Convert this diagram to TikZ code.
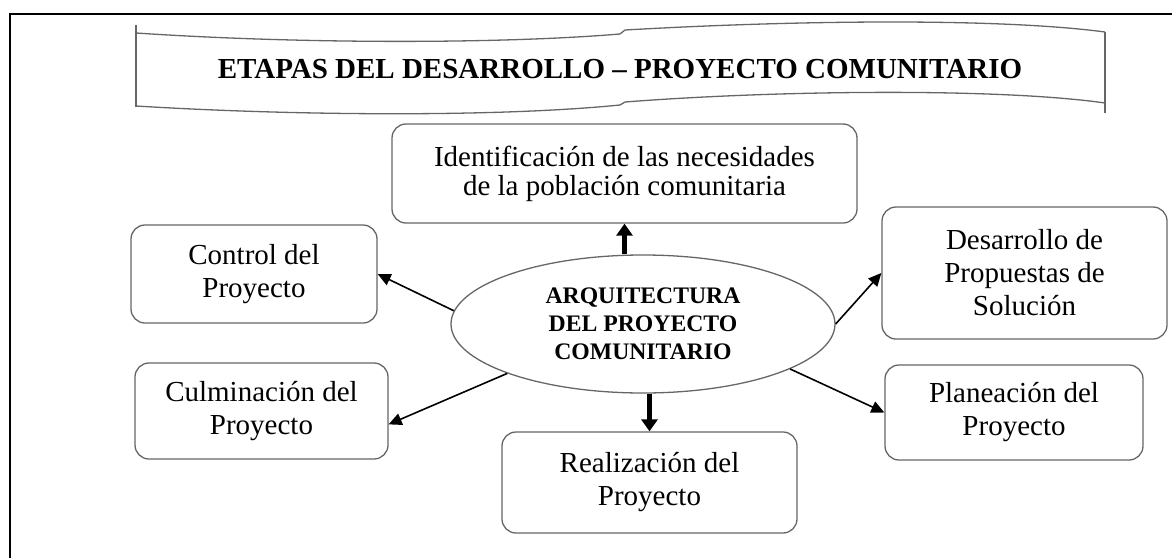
\documentclass[tikz,border=0pt]{standalone}
\usepackage{fontspec}
\setmainfont{Liberation Serif}
\usetikzlibrary{arrows.meta,shapes.geometric}

\begin{document}
\begin{tikzpicture}[x=1pt,y=-1pt,
    etapa/.style={draw=black!60,line width=1.3pt,rounded corners=14pt,align=center,
      inner sep=0pt,font=\fontsize{29}{33}\selectfont},
    nucleo/.style={draw=black!60,line width=1.3pt,ellipse,inner sep=0pt,align=center,
      minimum width=384pt,minimum height=138pt,font=\fontsize{23.7}{28}\selectfont\bfseries},
    banda/.style={draw=black!60,line width=1.3pt},
    flecha/.style={line width=1.6pt,-{Triangle[length=13pt,width=12pt]}},
    flechagruesa/.style={line width=4.5pt,-{Triangle[length=12pt,width=16pt]}}]
  \useasboundingbox (0,0) rectangle (1172,557);
  \clip (0,0) rectangle (1172,557);
  % marco
  \draw[line width=1.3pt] (10,14) rectangle (1200,600);
  % banda del titulo
  \draw[banda] (136,33) .. controls (300,44) and (500,44) .. (620,34) -- (625,30)
    .. controls (800,20) and (1000,18) .. (1105,32);
  \draw[banda] (136,106) .. controls (300,116) and (500,117) .. (620,105) -- (625,102)
    .. controls (780,90) and (1000,88) .. (1105,103);
  \draw[banda] (136,25) -- (136,107);
  \draw[banda] (1105,32) -- (1105,113);
  \node[anchor=base,font=\fontsize{29}{33}\selectfont\bfseries] (titulo) at (620,78)
    {ETAPAS DEL DESARROLLO – PROYECTO COMUNITARIO};
  % etapas
  \node[nucleo] (nucleo) at (643,324) {ARQUITECTURA\\DEL PROYECTO\\COMUNITARIO};
  \node[etapa,minimum width=465pt,minimum height=99pt,font=\fontsize{29}{29}\selectfont]
    (necesidades) at (624.5,173.5) {Identificación de las necesidades\\de la población comunitaria};
  \node[etapa,minimum width=246pt,minimum height=98pt] (control) at (254,274) {Control del\\Proyecto};
  \node[etapa,minimum width=253pt,minimum height=96pt] (culminacion) at (261.5,411) {Culminación del\\Proyecto};
  \node[etapa,minimum width=295pt,minimum height=101pt] (realizacion) at (649.5,482.5) {Realización del\\Proyecto};
  \node[etapa,minimum width=285pt,minimum height=132pt] (desarrollo) at (1024.5,273) {Desarrollo de\\Propuestas de\\Solución};
  \node[etapa,minimum width=258pt,minimum height=95pt] (planeacion) at (1014,412.5) {Planeación del\\Proyecto};
  % flechas
  \draw[flechagruesa] (necesidades.south |- nucleo.north) -- (necesidades.south);
  \draw[flechagruesa] (realizacion.north |- nucleo.south) -- (realizacion.north);
  \draw[flecha] (nucleo.176) -- (control.east);
  \draw[flecha] (nucleo.200) -- (culminacion.-6);
  \draw[flecha] (nucleo.east) -- (desarrollo.west);
  \draw[flecha] (nucleo.-17) -- (planeacion.west);
\end{tikzpicture}
\end{document}
